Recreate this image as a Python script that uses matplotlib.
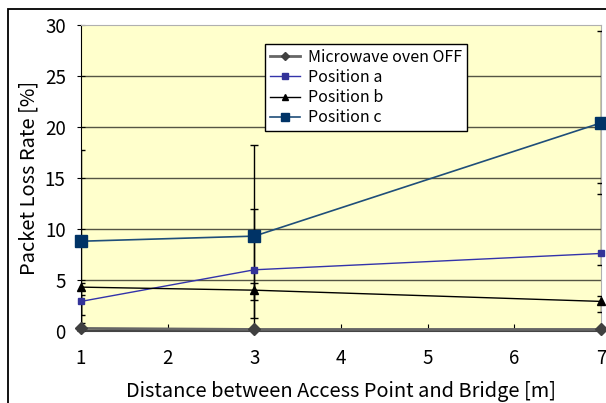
import matplotlib
matplotlib.use('Agg')
import matplotlib.pyplot as plt
import matplotlib.patches as patches

plt.rcParams['font.family'] = ['Noto Sans CJK JP', 'DejaVu Sans']

dist = [1, 3, 7]

off = [0.25, 0.15, 0.15]
pos_a = [2.9, 6.0, 7.6]
pos_b = [4.3, 4.0, 2.9]
pos_c = [8.8, 9.3, 20.4]

# error bars (lower, upper) read from the caps
a_lo, a_hi = [1.3, 4.7, 1.1], [0.6, 6.0, 6.9]
b_lo, b_hi = [3.5, 1.0, 1.0], [0.4, 0.7, 0.5]
c_lo, c_hi = [8.8, 9.0, 7.0], [8.9, 8.9, 9.0]

fig = plt.figure(figsize=(6.06, 4.03), dpi=100)
ax1 = fig.add_axes([0.1337, 0.1787, 0.8580, 0.7593])
ax1.set_facecolor('#FFFFCC')

# outer chart frame
fig.patches.append(patches.Rectangle((8/606, -0.1), 1.2, 1 - 9/403 + 0.1,
                                     transform=fig.transFigure, fill=False,
                                     edgecolor='black', linewidth=1.3))

for y in [5, 10, 15, 20, 25]:
    ax1.axhline(y, color='#555544', linewidth=1.0, zorder=1)

eb = dict(fmt='none', ecolor='black', elinewidth=1.0, capsize=2.6, capthick=1.0, zorder=3)
ax1.errorbar(dist, pos_a, yerr=[a_lo, a_hi], **eb)
ax1.errorbar(dist, pos_b, yerr=[b_lo, b_hi], **eb)
ax1.errorbar(dist, pos_c, yerr=[c_lo, c_hi], **eb)

ax1.plot(dist, off, color='#666666', linewidth=2, marker='D', markersize=6,
         markerfacecolor='#404040', markeredgecolor='#404040',
         label='Microwave oven OFF', zorder=4, clip_on=False)
ax1.plot(dist, pos_a, color='#3333AA', linewidth=1, marker='s', markersize=5,
         markerfacecolor='#333399', markeredgecolor='#333399',
         label='Position a', zorder=4, clip_on=False)
ax1.plot(dist, pos_b, color='black', linewidth=1, marker='^', markersize=6,
         label='Position b', zorder=4, clip_on=False)
ax1.plot(dist, pos_c, color='#1F4E79', linewidth=1.2, marker='s', markersize=8,
         markerfacecolor='#003366', markeredgecolor='#003366',
         label='Position c', zorder=4, clip_on=False)

ax1.set_xlim(1, 7)
ax1.set_ylim(0, 30)
ax1.set_xticks([1, 2, 3, 4, 5, 6, 7])
ax1.set_yticks([0, 5, 10, 15, 20, 25, 30])
ax1.tick_params(axis='x', direction='in', length=5, labelsize=13.5, pad=12)
ax1.tick_params(axis='y', direction='inout', length=6, labelsize=13.5, pad=8)

for s in ['top', 'right']:
    ax1.spines[s].set_color('#B0B0B0')
ax1.spines['left'].set_color('black')
ax1.spines['bottom'].set_color('#444444')
ax1.spines['bottom'].set_linewidth(1.5)

ax1.set_xlabel('Distance between Access Point and Bridge [m]', fontsize=14.4, labelpad=9)
ax1.set_ylabel('Packet Loss Rate [%]', fontsize=14.5, labelpad=4)

leg = ax1.legend(loc='upper left', bbox_to_anchor=(0.354, 0.938), borderaxespad=0,
                 fontsize=11.5, frameon=True, fancybox=False, edgecolor='black',
                 framealpha=1, handlelength=1.9, handletextpad=0.5,
                 borderpad=0.3, labelspacing=0.2, markerscale=0.75)
leg.get_frame().set_linewidth(1.0)

plt.savefig('out.png', dpi=100)
